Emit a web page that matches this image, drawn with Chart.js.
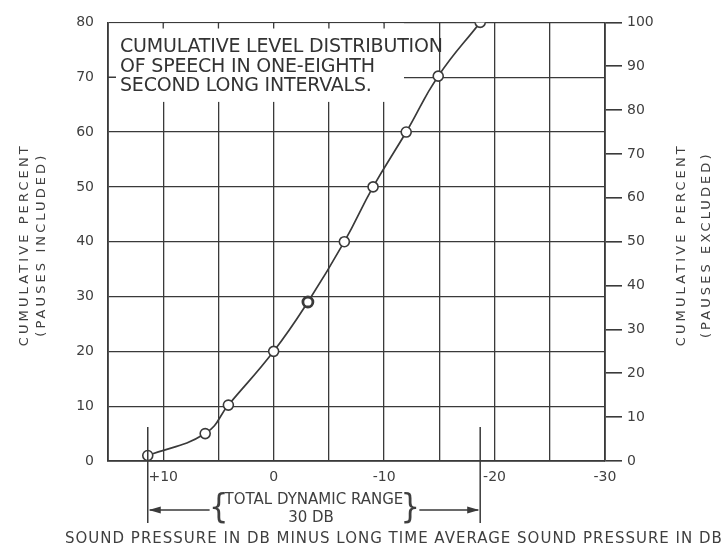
<!DOCTYPE html>
<html>
<head>
<meta charset="utf-8">
<script src="https://cdn.jsdelivr.net/npm/chart.js@4.4.1/dist/chart.umd.min.js"></script>
<style>
  body { margin: 0; background: #fff; }
  #wrap { width: 725px; height: 548px; position: relative; }
</style>
</head>
<body>
<div id="wrap"><canvas id="speechChart"></canvas></div>
<script>
// level relative to long-time average (dB) and cumulative percent (pauses included)
const levelDb = [11.4, 6.2, 4.1, 0, -3.1, -6.4, -9.0, -12.0, -14.9, -18.7];
const pctIncluded = [1, 5, 10.2, 20, 29, 40, 50, 60, 70.2, 80];

const leftTitle = ['CUMULATIVE PERCENT', '(PAUSES INCLUDED)'];
const rightTitle = ['CUMULATIVE PERCENT', '(PAUSES EXCLUDED)'];
const xTitle = 'SOUND PRESSURE IN DB MINUS LONG TIME AVERAGE SOUND PRESSURE IN DB';
const boxLines = ['CUMULATIVE LEVEL DISTRIBUTION', 'OF SPEECH IN ONE-EIGHTH', 'SECOND LONG INTERVALS.'];
const rangeLabel = ['TOTAL DYNAMIC RANGE', '30 DB'];
const rangeFrom = 11.4;
const rangeTo = -18.7;

const ink = '#3a3a3a';
const textInk = '#3f3f3f';
const fontFam = '"DejaVu Sans", sans-serif';

const points = levelDb.map((v, i) => ({ x: v, y: pctIncluded[i] }));

function tickLabel(v) {
    if (v % 10 !== 0) return '';
    if (v > 0) return '+' + v;
    if (v < 0) return '-' + Math.abs(v);
    return '0';
}

function spacedText(ctx, text, x, y, spacing) {
    ctx.letterSpacing = spacing + 'px';
    ctx.fillText(text, x, y);
    ctx.letterSpacing = '0px';
}

const decor = {
    id: 'decor',
    beforeDatasetsDraw(chart) {
        const { ctx, chartArea: a, scales: { x, y } } = chart;
        const bx = x.getPixelForValue(-11.8);
        const by = y.getPixelForValue(65.5);
        ctx.save();
        ctx.fillStyle = '#fff';
        ctx.fillRect(a.left + 1, a.top + 1, bx - a.left - 1, by - a.top - 1);

        // little stubs left where the grid meets the frame
        ctx.strokeStyle = ink;
        ctx.lineWidth = 1.3;
        ctx.beginPath();
        for (let v = 10; v > -11.8; v -= 5) {
            const px = x.getPixelForValue(v);
            ctx.moveTo(px, a.top);
            ctx.lineTo(px, a.top + 6);
        }
        const py = y.getPixelForValue(70);
        ctx.moveTo(a.left, py);
        ctx.lineTo(a.left + 8, py);
        ctx.stroke();

        ctx.fillStyle = '#333';
        ctx.font = '19px ' + fontFam;
        ctx.textBaseline = 'alphabetic';
        boxLines.forEach((t, i) => spacedText(ctx, t, a.left + 12, a.top + 30 + i * 19.5, -0.2));
        ctx.restore();
    },
    afterDraw(chart) {
        const { ctx, chartArea: a, scales: { x } } = chart;
        const midY = (a.top + a.bottom) / 2 + 3;
        ctx.save();
        ctx.fillStyle = textInk;
        ctx.textAlign = 'center';
        ctx.textBaseline = 'middle';
        ctx.font = '13px ' + fontFam;

        // side titles, both read bottom to top
        [[25, leftTitle[0]], [42, leftTitle[1]], [682, rightTitle[0]], [707, rightTitle[1]]].forEach(([px, t]) => {
            ctx.save();
            ctx.translate(px, midY);
            ctx.rotate(-Math.PI / 2);
            spacedText(ctx, t, 0, 0, 3.1);
            ctx.restore();
        });

        // bottom title
        ctx.textAlign = 'left';
        ctx.font = '15px ' + fontFam;
        spacedText(ctx, xTitle, 65, 539, 1.0);

        // dynamic range annotation
        const x1 = x.getPixelForValue(rangeFrom);
        const x2 = x.getPixelForValue(rangeTo);
        const mid = (x1 + x2) / 2;
        ctx.strokeStyle = ink;
        ctx.lineWidth = 1.5;
        ctx.beginPath();
        ctx.moveTo(x1, 427); ctx.lineTo(x1, 523);
        ctx.moveTo(x2, 427); ctx.lineTo(x2, 523);
        ctx.stroke();

        ctx.font = '15px ' + fontFam;
        ctx.textAlign = 'center';
        const w = ctx.measureText(rangeLabel[0]).width;
        ctx.fillText(rangeLabel[0], mid, 500);
        ctx.fillText(rangeLabel[1], mid - 3, 518);
        ctx.font = '34px "DejaVu Sans Condensed", ' + fontFam;
        const bl = mid - w / 2 - 6;
        const br = mid + w / 2 + 7;
        ctx.fillText('{', bl, 509);
        ctx.fillText('}', br, 509);

        const ay = 510;
        ctx.beginPath();
        ctx.moveTo(bl - 9, ay); ctx.lineTo(x1 + 2, ay);
        ctx.moveTo(br + 9, ay); ctx.lineTo(x2 - 2, ay);
        ctx.stroke();
        ctx.fillStyle = ink;
        ctx.beginPath();
        ctx.moveTo(x1 + 1, ay); ctx.lineTo(x1 + 13, ay - 3.5); ctx.lineTo(x1 + 13, ay + 3.5); ctx.closePath();
        ctx.moveTo(x2 - 1, ay); ctx.lineTo(x2 - 13, ay - 3.5); ctx.lineTo(x2 - 13, ay + 3.5); ctx.closePath();
        ctx.fill();
        ctx.restore();
    }
};

new Chart(document.getElementById('speechChart'), {
    type: 'scatter',
    data: {
        datasets: [{
            data: points,
            showLine: true,
            tension: 0.45,
            borderColor: ink,
            borderWidth: 1.7,
            pointRadius: 5,
            pointBackgroundColor: '#fff',
            pointBorderColor: ink,
            pointBorderWidth: [1.6, 1.6, 1.6, 1.6, 2.8, 1.6, 1.6, 1.6, 1.6, 1.6]
        }]
    },
    options: {
        responsive: true,
        maintainAspectRatio: false,
        animation: false,
        layout: { padding: { top: 17, left: 0, right: 0, bottom: 0 } },
        plugins: { legend: { display: false }, tooltip: { enabled: false } },
        scales: {
            x: {
                type: 'linear',
                min: -30,
                max: 15,
                reverse: true,
                afterFit: s => { s.height = 87; },
                ticks: { stepSize: 5, autoSkip: false, maxRotation: 0, padding: 8, color: textInk, font: { family: fontFam, size: 14 }, callback: tickLabel },
                grid: { color: ink, lineWidth: 1.3, drawTicks: false },
                border: { color: ink, width: 1.8 }
            },
            y: {
                position: 'left',
                min: 0,
                max: 80,
                afterFit: s => { s.width = 108; },
                ticks: { stepSize: 10, padding: 14, color: textInk, font: { family: fontFam, size: 14 } },
                grid: { color: ink, lineWidth: 1.3, drawTicks: false },
                border: { color: ink, width: 1.8 }
            },
            y2: {
                position: 'right',
                min: 0,
                max: 100,
                afterFit: s => { s.width = 120; },
                ticks: { stepSize: 10, padding: 5, color: textInk, font: { family: fontFam, size: 14 } },
                grid: { drawOnChartArea: false, color: ink, lineWidth: 1.6, tickLength: 17 },
                border: { color: ink, width: 1.8 }
            }
        }
    },
    plugins: [decor]
});
</script>
</body>
</html>
